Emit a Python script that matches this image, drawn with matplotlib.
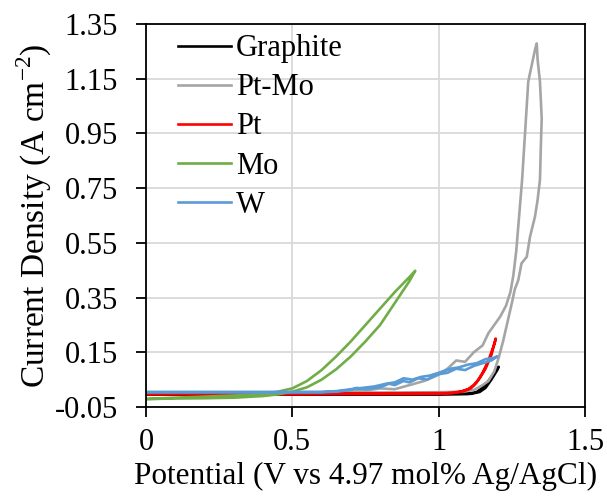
import matplotlib
matplotlib.use("Agg")
import matplotlib.pyplot as plt

plt.rcParams['font.family'] = ['Liberation Serif', 'DejaVu Serif']
plt.rcParams['mathtext.fontset'] = 'custom'
plt.rcParams['mathtext.rm'] = 'Liberation Serif'

# Graphite
graphite_x = [0.0, 0.5, 1.0, 1.1, 1.13, 1.15, 1.17, 1.19, 1.205,
              1.2, 1.18, 1.16, 1.14, 1.11, 1.0, 0.5, 0.0]
graphite_y = [-0.003, -0.003, -0.003, -0.002, 0.005, 0.02, 0.045, 0.075, 0.097,
              0.085, 0.05, 0.02, 0.005, -0.002, -0.003, -0.003, -0.003]

# Pt-Mo
ptmo_x = [0.0, 0.3, 0.6, 0.7, 0.75, 0.8, 0.85, 0.9, 0.95, 1.0, 1.03, 1.06, 1.09,
          1.12, 1.15, 1.17, 1.19, 1.21, 1.23, 1.245, 1.255, 1.265, 1.275, 1.285,
          1.295, 1.306, 1.31, 1.33, 1.335, 1.338, 1.346, 1.352,
          1.349, 1.346, 1.338, 1.329, 1.312, 1.301, 1.283, 1.272, 1.26, 1.25,
          1.235, 1.22, 1.205, 1.19, 1.17, 1.15, 1.12, 1.08, 1.0, 0.8, 0.0]
ptmo_y = [0.003, 0.003, 0.004, 0.006, 0.01, 0.018, 0.015, 0.03, 0.045, 0.068, 0.09, 0.12, 0.115,
          0.15, 0.175, 0.22, 0.25, 0.28, 0.32, 0.37, 0.43, 0.52, 0.65, 0.78,
          0.95, 1.139, 1.16, 1.26, 1.279, 1.22, 1.139, 1.005,
          0.9, 0.78, 0.707, 0.646, 0.572, 0.499, 0.475, 0.414, 0.38, 0.33,
          0.26, 0.19, 0.13, 0.08, 0.045, 0.03, 0.012, 0.006, 0.004, 0.003, 0.003]

# Pt
pt_x = [0.0, 0.5, 1.0, 1.05, 1.08, 1.1, 1.12, 1.14, 1.16, 1.18, 1.195,
        1.19, 1.17, 1.15, 1.13, 1.11, 1.08, 1.05, 0.5, 0.0]
pt_y = [-0.003, -0.003, -0.002, 0.002, 0.008, 0.015, 0.03, 0.055, 0.09, 0.14, 0.2,
        0.18, 0.12, 0.075, 0.04, 0.018, 0.006, 0.001, -0.002, -0.002]

# Mo
mo_x = [0.0, 0.05, 0.1, 0.2, 0.3, 0.4, 0.45, 0.5, 0.55, 0.6, 0.65, 0.7, 0.75,
        0.8, 0.85, 0.9, 0.92,
        0.9, 0.85, 0.8, 0.75, 0.7, 0.65, 0.6, 0.55, 0.5, 0.45, 0.4, 0.3, 0.2, 0.1, 0.0]
mo_y = [-0.022, -0.02, -0.019, -0.018, -0.016, -0.01, -0.004, 0.006, 0.022, 0.05, 0.088, 0.135, 0.19,
        0.25, 0.33, 0.41, 0.448,
        0.425, 0.37, 0.31, 0.25, 0.19, 0.135, 0.085, 0.045, 0.018, 0.006, -0.002, -0.008, -0.012, -0.016, -0.02]

# W
w_x = [0.0, 0.3, 0.6, 0.65, 0.7, 0.72, 0.75, 0.8, 0.83, 0.85, 0.88, 0.9, 0.93, 0.96,
       1.0, 1.03, 1.06, 1.09, 1.12, 1.15, 1.18, 1.2,
       1.19, 1.16, 1.13, 1.1, 1.07, 1.04, 1.0, 0.97, 0.94, 0.91, 0.88, 0.85,
       0.82, 0.78, 0.74, 0.7, 0.65, 0.6, 0.3, 0.0]
w_y = [0.004, 0.004, 0.004, 0.006, 0.012, 0.02, 0.015, 0.022, 0.035, 0.03, 0.045, 0.04, 0.055, 0.05,
       0.07, 0.075, 0.09, 0.085, 0.1, 0.11, 0.12, 0.135,
       0.13, 0.125, 0.11, 0.105, 0.095, 0.09, 0.075, 0.065, 0.06, 0.05, 0.055, 0.04,
       0.035, 0.025, 0.02, 0.015, 0.008, 0.005, 0.005, 0.005]

series = [
    ("Graphite", graphite_x, graphite_y, "#000000"),
    ("Pt-Mo", ptmo_x, ptmo_y, "#A5A5A5"),
    ("Pt", pt_x, pt_y, "#FF0000"),
    ("Mo", mo_x, mo_y, "#70AD47"),
    ("W", w_x, w_y, "#5B9BD5"),
]

y_ticks = [-0.05, 0.15, 0.35, 0.55, 0.75, 0.95, 1.15, 1.35]
x_ticks = [0, 0.5, 1, 1.5]
x_tick_labels = ["0", "0.5", "1", "1.5"]

fig = plt.figure(figsize=(6.07, 4.97), dpi=100)
ax = fig.add_axes([0.2405, 0.1811, 0.7233, 0.7706])

for name, xs, ys, color in series:
    ax.plot(xs, ys, color=color, lw=1.9, label=name, solid_joinstyle='round')

ax.set_xlim(0, 1.5)
ax.set_ylim(-0.05, 1.35)
ax.set_xticks(x_ticks)
ax.set_xticklabels(x_tick_labels)
ax.set_yticks(y_ticks)
ax.set_yticklabels(["%.2f" % v for v in y_ticks])
ax.grid(True, color="#d9d9d9", lw=1.3)
ax.set_axisbelow(True)
for sp in ax.spines.values():
    sp.set_linewidth(1.3)
ax.tick_params(direction='out', length=7, width=1.3, labelsize=22)
ax.tick_params(axis='y', pad=13)
ax.tick_params(axis='x', pad=8)

ax.set_xlabel("Potential (V vs 4.97 mol% Ag/AgCl)", fontsize=22.5, labelpad=4)
ax.set_ylabel(r"Current Density (A cm$^{\mathregular{-2}}$)", fontsize=24, labelpad=1)

ax.legend(loc="upper left", bbox_to_anchor=(0.045, 1.005), frameon=False, fontsize=22,
          handlelength=1.75, handletextpad=0.15, labelspacing=0.33, borderaxespad=0)

fig.savefig("out.png", dpi=100)
